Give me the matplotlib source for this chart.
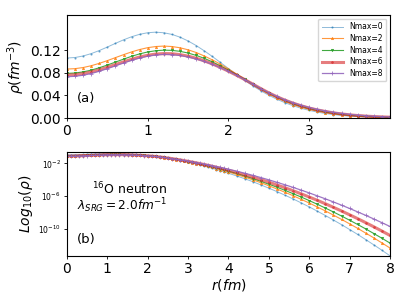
import numpy as np
import matplotlib
matplotlib.use('Agg')
import matplotlib.pyplot as plt
from matplotlib.ticker import FixedLocator, NullLocator, LogFormatterSciNotation

# radial grid (fm) for the linear panel and for the log tail
r_lin = [round(0.1 * i, 1) for i in range(41)]
r_tail = [round(4.2 + 0.2 * i, 1) for i in range(20)]

labels = ['Nmax=0', 'Nmax=2', 'Nmax=4', 'Nmax=6', 'Nmax=8']

# density rho (fm^-3), r = 0 .. 4.0
rho_n0 = [0.1060, 0.1069, 0.1096, 0.1138, 0.1192, 0.1254, 0.1319, 0.1381, 0.1436, 0.1479, 0.1507,
          0.1517, 0.1506, 0.1477, 0.1428, 0.1361, 0.1280, 0.1187, 0.1087, 0.0981, 0.0874,
          0.0768, 0.0666, 0.0570, 0.0482, 0.0402, 0.0331, 0.0270, 0.0217, 0.0172, 0.0135,
          0.01045, 0.00800, 0.00605, 0.00452, 0.00334, 0.00244, 0.00176, 0.001255, 0.000885, 0.000617]
rho_n2 = [0.0865, 0.0872, 0.0892, 0.0924, 0.0966, 0.1014, 0.1067, 0.1119, 0.1168, 0.1210, 0.1243,
          0.1263, 0.1271, 0.1263, 0.1241, 0.1205, 0.1157, 0.1096, 0.1027, 0.0951, 0.0866,
          0.0777, 0.0688, 0.0594, 0.0504, 0.0425, 0.0355, 0.0292, 0.0238, 0.0192, 0.0153,
          0.0121, 0.00944, 0.00729, 0.00557, 0.00421, 0.00315, 0.00233, 0.00171, 0.00124, 0.00089]
rho_n4 = [0.0788, 0.0795, 0.0815, 0.0846, 0.0888, 0.0936, 0.0988, 0.1040, 0.1090, 0.1133, 0.1167,
          0.1189, 0.1199, 0.1195, 0.1178, 0.1148, 0.1106, 0.1054, 0.0992, 0.0922, 0.0846,
          0.0767, 0.0686, 0.0599, 0.0515, 0.0438, 0.0369, 0.0307, 0.0253, 0.0206, 0.0166,
          0.0133, 0.0105, 0.00821, 0.00636, 0.00488, 0.00371, 0.00279, 0.00208, 0.00153, 0.00112]
rho_n6 = [0.0759, 0.0765, 0.0784, 0.0813, 0.0851, 0.0896, 0.0944, 0.0992, 0.1038, 0.1078, 0.1109,
          0.1130, 0.1139, 0.1136, 0.1120, 0.1093, 0.1056, 0.1010, 0.0956, 0.0894, 0.0827,
          0.0755, 0.0680, 0.0600, 0.0520, 0.0444, 0.0376, 0.0315, 0.0262, 0.0216, 0.0176,
          0.0143, 0.0115, 0.00912, 0.00719, 0.00562, 0.00436, 0.00335, 0.00255, 0.00193, 0.00145]
rho_n8 = [0.0730, 0.0737, 0.0756, 0.0786, 0.0826, 0.0872, 0.0922, 0.0972, 0.1019, 0.1061, 0.1093,
          0.1115, 0.1124, 0.1120, 0.1105, 0.1079, 0.1044, 0.1000, 0.0948, 0.0889, 0.0824,
          0.0754, 0.0680, 0.0602, 0.0521, 0.0447, 0.0380, 0.0322, 0.0270, 0.0225, 0.0186,
          0.0153, 0.0125, 0.0101, 0.00814, 0.00650, 0.00516, 0.00406, 0.00318, 0.00247, 0.00191]

# log10(rho) for r = 4.2 .. 8.0
log_n0 = [-3.53, -3.87, -4.23, -4.62, -5.02, -5.44, -5.88, -6.33, -6.81, -7.30,
          -7.82, -8.35, -8.90, -9.46, -10.05, -10.65, -11.28, -11.92, -12.57, -13.25]
log_n2 = [-3.35, -3.67, -4.00, -4.36, -4.73, -5.12, -5.52, -5.94, -6.38, -6.83,
          -7.31, -7.79, -8.30, -8.82, -9.36, -9.91, -10.49, -11.07, -11.68, -12.30]
log_n4 = [-3.23, -3.54, -3.85, -4.19, -4.54, -4.90, -5.29, -5.69, -6.10, -6.53,
          -6.98, -7.44, -7.92, -8.41, -8.92, -9.44, -9.98, -10.54, -11.11, -11.70]
log_n6 = [-3.10, -3.38, -3.67, -3.97, -4.29, -4.63, -4.97, -5.33, -5.71, -6.10,
          -6.50, -6.92, -7.35, -7.80, -8.26, -8.73, -9.22, -9.72, -10.24, -10.77]
log_n8 = [-2.95, -3.20, -3.46, -3.73, -4.01, -4.31, -4.61, -4.93, -5.26, -5.60,
          -5.96, -6.32, -6.70, -7.09, -7.49, -7.91, -8.33, -8.77, -9.22, -9.68]

rhos = [rho_n0, rho_n2, rho_n4, rho_n6, rho_n8]
tails = [log_n0, log_n2, log_n4, log_n6, log_n8]

colors = ['#1f77b4', '#ff7f0e', '#2ca02c', '#d62728', '#9467bd']
markers = ['.', '^', 'v', 'o', '+']
lws = [0.7, 0.8, 0.8, 2.2, 0.9]
alphas = [0.5, 0.8, 0.9, 0.6, 0.9]
msizes = [2.0, 1.6, 1.6, 1.3, 2.5]

fig = plt.figure(figsize=(4.07, 3.05), dpi=100)
ax1 = fig.add_axes([0.1646, 0.6131, 0.7936, 0.3377])
ax2 = fig.add_axes([0.1646, 0.1607, 0.7936, 0.3410])

for i in range(5):
    ax1.plot(r_lin, rhos[i], color=colors[i], marker=markers[i], ms=msizes[i],
             lw=lws[i], alpha=alphas[i], mew=0.6, label=labels[i])
    r_all = r_lin + r_tail
    y_all = list(rhos[i]) + [10 ** v for v in tails[i]]
    ax2.plot(r_all, y_all, color=colors[i], marker=markers[i], ms=msizes[i],
             lw=lws[i], alpha=alphas[i], mew=0.6)

ax1.set_xlim(0, 4)
ax1.set_ylim(0, 0.182)
ax1.set_xticks([0, 1, 2, 3])
ax1.set_yticks([0.0, 0.04, 0.08, 0.12])
ax1.set_yticklabels(['0.00', '0.04', '0.08', '0.12'])
ax1.set_ylabel(r'$\rho(fm^{-3})$', fontsize=10, labelpad=2)
ax1.text(0.03, 0.19, '(a)', transform=ax1.transAxes, fontsize=9.5, va='center')
ax1.legend(loc='upper right', fontsize=5.5, handlelength=2.8, borderpad=0.45,
           labelspacing=0.35, handletextpad=0.8)

ax2.set_yscale('log')
ax2.set_xlim(0, 8)
ax2.set_ylim(10 ** -13.27, 10 ** -0.62)
ax2.set_xticks(range(9))
ax2.yaxis.set_major_locator(FixedLocator([1e-2, 1e-6, 1e-10]))
ax2.yaxis.set_major_formatter(LogFormatterSciNotation())
ax2.yaxis.set_minor_locator(NullLocator())
ax2.tick_params(axis='y', labelsize=5.5)
ax2.set_ylabel(r'$Log_{10}(\rho)$', fontsize=10, labelpad=2)
ax2.set_xlabel(r'$r(fm)$', fontsize=10, labelpad=0.5)
ax2.text(0.31, 0.645, r'$^{16}$O neutron', transform=ax2.transAxes, fontsize=9,
         ha='right', va='center')
ax2.text(0.31, 0.48, r'$\lambda_{SRG}=2.0fm^{-1}$', transform=ax2.transAxes, fontsize=8.7,
         ha='right', va='center')
ax2.text(0.03, 0.155, '(b)', transform=ax2.transAxes, fontsize=9.5, va='center')

for ax in (ax1, ax2):
    ax.tick_params(axis='x', labelsize=10, length=2.5, width=0.6, pad=2)
    ax.tick_params(axis='y', length=2.5, width=0.6, pad=2)
    for s in ax.spines.values():
        s.set_linewidth(0.8)
ax1.tick_params(axis='y', labelsize=10)

fig.savefig('out.png', dpi=100)
